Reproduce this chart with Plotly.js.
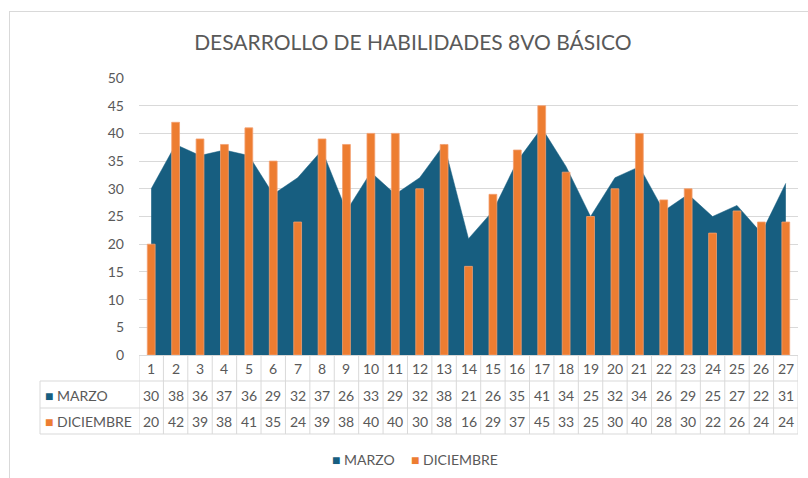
<!DOCTYPE html>
<html>
<head>
<meta charset="utf-8">
<script src="https://cdn.plot.ly/plotly-3.0.1.min.js"></script>
<style>
html,body{margin:0;padding:0;background:#fff;overflow:hidden;}
#frame{position:absolute;left:9px;top:11px;width:900px;height:600px;border:1.5px solid #d9d9d9;box-sizing:border-box;}
#chart{position:absolute;left:0;top:0;width:808px;height:478px;}
</style>
</head>
<body>
<div id="frame"></div>
<div id="chart"></div>
<script>
const categories = [1,2,3,4,5,6,7,8,9,10,11,12,13,14,15,16,17,18,19,20,21,22,23,24,25,26,27];
const marzo = [30,38,36,37,36,29,32,37,26,33,29,32,38,21,26,35,41,34,25,32,34,26,29,25,27,22,31];
const diciembre = [20,42,39,38,41,35,24,39,38,40,40,30,38,16,29,37,45,33,25,30,40,28,30,22,26,24,24];
const seriesNames = ['MARZO','DICIEMBRE'];
const yTicks = [0,5,10,15,20,25,30,35,40,45,50];

const BLUE = '#175E80';
const ORANGE = '#ED7D31';
const GRID = '#D9D9D9';
const TXT = '#595959';
const FONT = 'Lato, "Open Sans", sans-serif';

const W = 808, H = 478, ML = 139, MR = 10, MT = 78, MB = 123;
const PW = W - ML - MR, PH = H - MT - MB;
const py = p => (MT + PH - p) / PH;   // pixel y -> paper y
const px = p => (p - ML) / PW;        // pixel x -> paper x

const rowB = [381, 408, 434];
const rowMid = [368, 395, 421];

const shapes = [];
const annotations = [];
for (let i = 0; i <= categories.length; i++) {
  shapes.push({type:'line', xref:'x', yref:'paper', x0:i+0.5, x1:i+0.5, y0:py(355), y1:py(434),
    line:{color:GRID, width:1}});
}
shapes.push({type:'line', xref:'paper', yref:'paper', x0:px(40), x1:px(40), y0:py(381), y1:py(434), line:{color:GRID,width:1}});
rowB.forEach(y => shapes.push({type:'line', xref:'paper', yref:'paper', x0:px(40), x1:1, y0:py(y), y1:py(y), line:{color:GRID,width:1}}));

categories.forEach((c, i) => {
  annotations.push({xref:'x', yref:'paper', x:c, y:py(rowMid[0]), text:String(c), showarrow:false,
    xanchor:'center', yanchor:'middle', font:{family:FONT, size:14, color:TXT}});
  annotations.push({xref:'x', yref:'paper', x:c, y:py(rowMid[1]), text:String(marzo[i]), showarrow:false,
    xanchor:'center', yanchor:'middle', font:{family:FONT, size:14, color:TXT}});
  annotations.push({xref:'x', yref:'paper', x:c, y:py(rowMid[2]), text:String(diciembre[i]), showarrow:false,
    xanchor:'center', yanchor:'middle', font:{family:FONT, size:14, color:TXT}});
});
annotations.push({xref:'paper', yref:'paper', x:px(43), y:py(rowMid[1]), xanchor:'left', yanchor:'middle', showarrow:false,
  text:'<span style="color:'+BLUE+'">■</span> '+seriesNames[0], font:{family:FONT, size:14, color:TXT}});
annotations.push({xref:'paper', yref:'paper', x:px(43), y:py(rowMid[2]), xanchor:'left', yanchor:'middle', showarrow:false,
  text:'<span style="color:'+ORANGE+'">■</span> '+seriesNames[1], font:{family:FONT, size:14, color:TXT}});
annotations.push({xref:'paper', yref:'paper', x:px(330), y:py(459), xanchor:'left', yanchor:'middle', showarrow:false,
  text:'<span style="color:'+BLUE+'">■</span> '+seriesNames[0], font:{family:FONT, size:14, color:TXT}});
annotations.push({xref:'paper', yref:'paper', x:px(409), y:py(459), xanchor:'left', yanchor:'middle', showarrow:false,
  text:'<span style="color:'+ORANGE+'">■</span> '+seriesNames[1], font:{family:FONT, size:14, color:TXT}});

const traces = [
  {type:'scatter', x:categories, y:marzo, name:seriesNames[0], mode:'lines', fill:'tozeroy',
   line:{color:BLUE, width:0.5}, fillcolor:BLUE, hoverinfo:'skip'},
  {type:'bar', x:categories, y:diciembre, name:seriesNames[1], width:0.32, yaxis:'y2',
   marker:{color:ORANGE, line:{color:'#F4A070', width:0.8}}, hoverinfo:'skip'}
];

const layout = {
  width:W, height:H,
  margin:{l:ML, r:MR, t:MT, b:MB},
  paper_bgcolor:'rgba(0,0,0,0)', plot_bgcolor:'rgba(0,0,0,0)',
  showlegend:false,
  title:{text:'DESARROLLO DE HABILIDADES 8VO BÁSICO', x:0.511, xanchor:'center', y:1-43/H, yanchor:'middle',
    font:{family:FONT, size:21, color:TXT}},
  xaxis:{range:[0.5, 27.5], showticklabels:false, showgrid:false, zeroline:false, showline:true,
    linecolor:GRID, linewidth:1, ticks:'', fixedrange:true},
  yaxis:{range:[0,50], tickvals:yTicks, showgrid:true, gridcolor:GRID, gridwidth:1, zeroline:false,
    showline:false, ticks:'', ticklabelstandoff:14, tickfont:{family:FONT, size:14, color:TXT}},
  yaxis2:{range:[0,50], overlaying:'y', side:'left', showgrid:false, showticklabels:false, zeroline:false,
    showline:false, ticks:''},
  shapes:shapes, annotations:annotations
};
Plotly.newPlot('chart', traces, layout, {staticPlot:true, displayModeBar:false});
</script>
</body>
</html>
